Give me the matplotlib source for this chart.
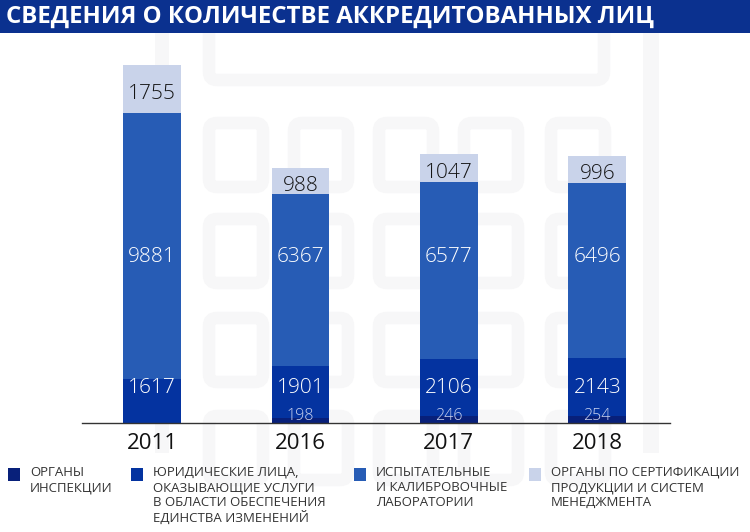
import numpy as np
import matplotlib.pyplot as plt
from matplotlib.patches import FancyBboxPatch, Rectangle

# data
years = ['2011', '2016', '2017', '2018']
inspection = [0, 198, 246, 254]
legal = [1617, 1901, 2106, 2143]
labs = [9881, 6367, 6577, 6496]
certification = [1755, 988, 1047, 996]

legend_labels = [
    'ОРГАНЫ\nИНСПЕКЦИИ',
    'ЮРИДИЧЕСКИЕ ЛИЦА,\nОКАЗЫВАЮЩИЕ УСЛУГИ\nВ ОБЛАСТИ ОБЕСПЕЧЕНИЯ\nЕДИНСТВА ИЗМЕНЕНИЙ',
    'ИСПЫТАТЕЛЬНЫЕ\nИ КАЛИБРОВОЧНЫЕ\nЛАБОРАТОРИИ',
    'ОРГАНЫ ПО СЕРТИФИКАЦИИ\nПРОДУКЦИИ И СИСТЕМ\nМЕНЕДЖМЕНТА',
]
title = 'СВЕДЕНИЯ О КОЛИЧЕСТВЕ АККРЕДИТОВАННЫХ ЛИЦ'

colors = ['#08207a', '#0433a0', '#275cb5', '#c9d3ea']
title_bg = '#0b318f'
font = 'Open Sans'

W, H = 750, 532
fig = plt.figure(figsize=(W / 100, H / 100), dpi=100)

# background: faint watermark of rounded squares (pixel coords)
bg = fig.add_axes([0, 0, 1, 1], zorder=0)
bg.set_xlim(0, W)
bg.set_ylim(H, 0)
bg.axis('off')
wm = '#f7f7f8'
cols = [203, 288, 373, 458, 545]
rows = [117, 213, 312, 410]
for r in rows:
    for c in cols:
        bg.add_patch(FancyBboxPatch((c + 6, r + 6), 54, 64, boxstyle='round,pad=0,rounding_size=8',
                                    fill=False, ec=wm, lw=9))
bg.add_patch(FancyBboxPatch((209, 20), 395, 60, boxstyle='round,pad=0,rounding_size=8',
                            fill=False, ec=wm, lw=9))
bg.add_patch(Rectangle((643, 33), 16, 420, color=wm, lw=0))
bg.add_patch(Rectangle((155, 33), 14, 420, color=wm, lw=0))

# title bar
bg.add_patch(Rectangle((0, 0), W, 33, color=title_bg, lw=0))
bg.text(6, 17, title, color='white', fontsize=17.3, fontweight='bold', family=font,
        ha='left', va='center')

# main axes
ax = fig.add_axes([82 / W, (H - 423) / H, 588 / W, 378 / H], zorder=1)
ax.patch.set_alpha(0)
x = np.arange(len(years))
width = 0.39

series = [inspection, legal, labs, certification]
bottom = np.zeros(len(years))
for vals, col in zip(series, colors):
    ax.bar(x, vals, width, bottom=bottom, color=col, lw=0)
    bottom += np.array(vals)

ax.set_xlim(-0.472, 3.49)
ax.set_ylim(0, 14000)
for s in ['left', 'right', 'top']:
    ax.spines[s].set_visible(False)
ax.spines['bottom'].set_color('#333333')
ax.spines['bottom'].set_linewidth(1)
ax.set_yticks([])
ax.set_xticks(x)
ax.set_xticklabels(years, fontsize=16, family=font, color='#111111')
ax.tick_params(axis='x', length=0, pad=7)

# value labels
for i in range(len(years)):
    if inspection[i] > 0:
        ax.text(x[i], 250, str(inspection[i]), ha='center', va='center',
                fontsize=11.5, family=font, fontweight='light', color='#cdd5f0')
    ax.text(x[i], 1300, str(legal[i]), ha='center', va='center',
            fontsize=15, family=font, fontweight='light', color='white')
    ax.text(x[i], 6150, str(labs[i]), ha='center', va='center',
            fontsize=15, family=font, fontweight='light', color='white')
    top = inspection[i] + legal[i] + labs[i]
    ax.text(x[i], top + certification[i] / 2 - 180, str(certification[i]), ha='center', va='center',
            fontsize=15, family=font, fontweight='light', color='#151515')

# legend
sq_x = [8, 131, 354, 529]
for lx, col, lab in zip(sq_x, colors, legend_labels):
    bg.add_patch(Rectangle((lx, 468), 12, 13, color=col, lw=0))
    bg.text(lx + 22, 466, lab, ha='left', va='top', fontsize=9.5, family=font,
            color='#333333', linespacing=1.2)

fig.savefig('out.png', dpi=100)
